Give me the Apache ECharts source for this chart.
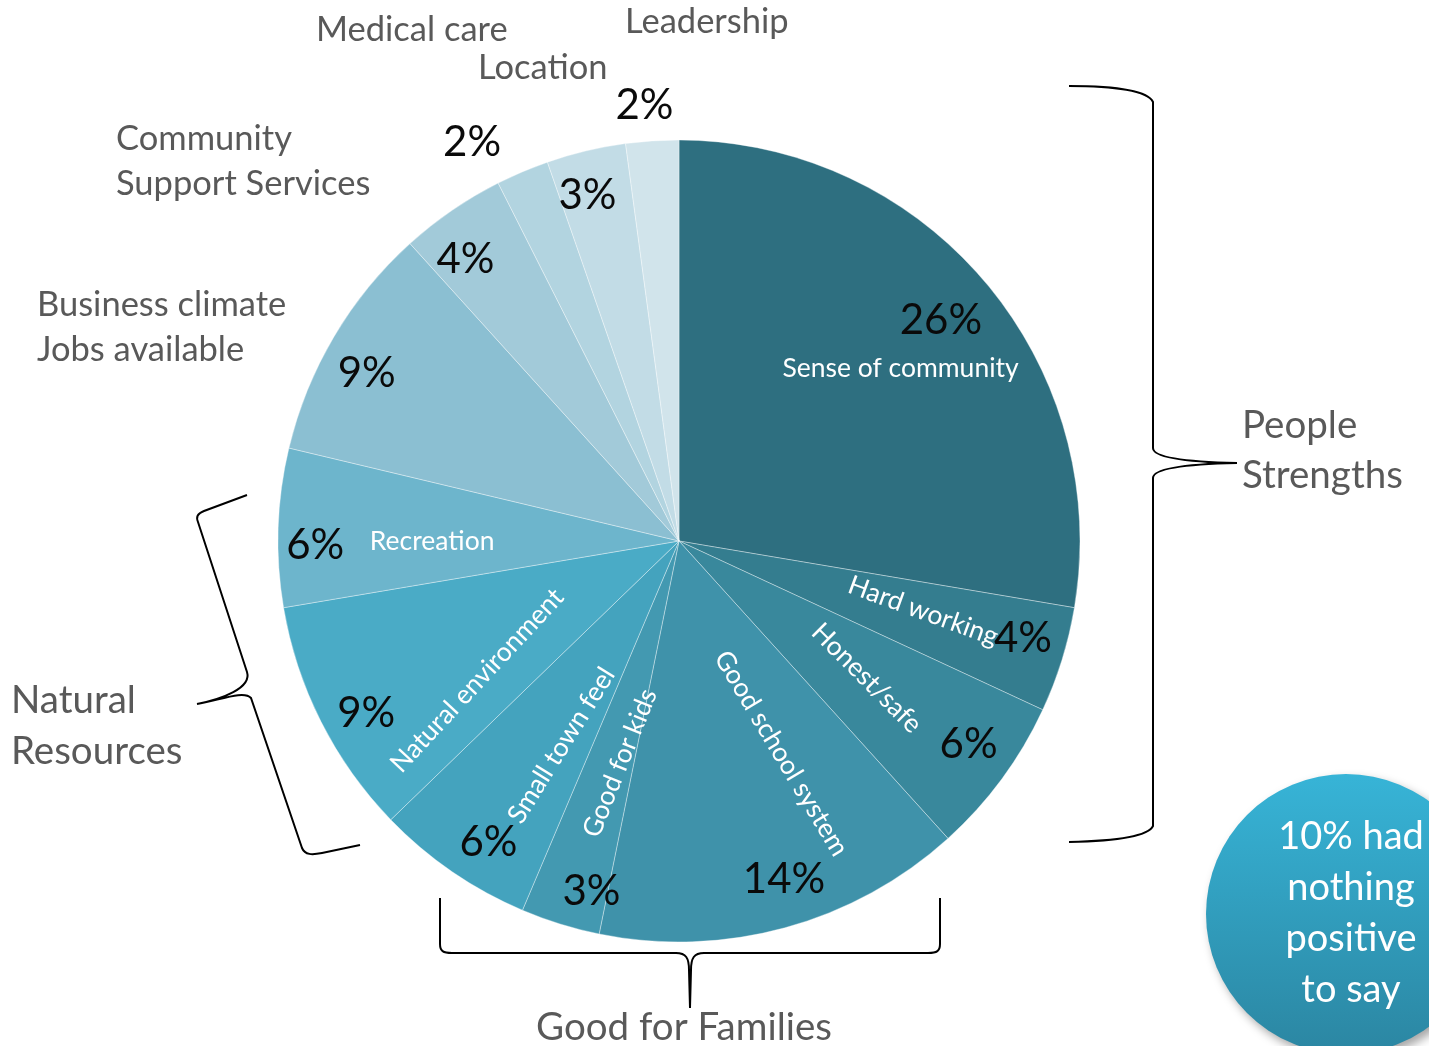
<!DOCTYPE html>
<html>
<head>
    <meta charset="utf-8">
    <script src="https://cdn.jsdelivr.net/npm/echarts@6/dist/echarts.min.js"></script>
    <style>
        html, body { margin: 0; padding: 0; background: #fff; }
    </style>
</head>
<body>
    <div id="main" style="width: 1429px;height:1046px;"></div>
    <script type="text/javascript">
        // data
        var categories = ['Sense of community', 'Hard working', 'Honest/safe', 'Good school system',
            'Good for kids', 'Small town feel', 'Natural environment', 'Recreation',
            'Business climate\nJobs available', 'Community\nSupport Services', 'Medical care',
            'Location', 'Leadership'];
        var shares = [26, 4, 6, 14, 3, 6, 9, 6, 9, 4, 2, 3, 2];
        var groupLabels = ['People\nStrengths', 'Natural\nResources', 'Good for Families'];
        var nothingShare = 10;

        // styles / layout
        var colors = ['#2e6f80', '#347d8f', '#39889c', '#3f92aa', '#4399b1', '#44a3be', '#4aabc6',
            '#6db5cc', '#8bbfd2', '#a2cad9', '#b2d4e0', '#c2dce6', '#d1e4eb'];
        var CX = 679, CY = 541, R = 401;
        var FONT = 'Lato, "Open Sans", sans-serif';
        var GRAY = '#595959';

        var nameInside = [true, true, true, true, true, true, true, true, false, false, false, false, false];
        var nameRotate = [0, -20, -45, -59, 68, 58, 47, 0];
        // screen-space offsets from the ring position
        var nameNudge = [[36, -16], [12, -2], [-8, -7], [38, -22], [13, -10], [20, 4], [15, 30], [-4, 9]];
        // outside names: [left x, middle y]
        var nameOutPos = { 8: [37, 327], 9: [116, 161], 10: [316, 30], 11: [478, 68], 12: [625, 22] };
        var pctOutside = [false, false, false, false, false, false, false, false, false, false, true, false, true];
        var pctNudge = [[-10, 9], [4, -8], [3, -8], [11, -5], [18, 10], [11, 8], [5, 12], [-8, 16],
            [-6, 14], [-12, 12], [-34, 9], [-9, 1], [-5, 6]];

        // curly braces around the groups
        var bracePaths = [
            'M1069 86 C1115 86 1148 91 1153 102 L1153 448 C1153 458 1190 462 1237 463 C1190 464 1153 468 1153 478 L1153 826 C1148 837 1115 841 1069 842',
            'M247 495 L204 511 C197 514 196 517 198 522 L247 672 C252 688 222 699 197 704 C220 700 244 690 251 698 L302 848 C305 855 312 855 322 853 L360 845',
            'M440 898 L440 944 C440 951 443 953 452 953 L676 953 C686 953 689 958 689 970 L690 1008 L691 970 C691 958 694 953 704 953 L928 953 C937 953 940 951 940 944 L940 898'
        ];

        var myChart = echarts.init(document.getElementById('main'));

        var base = {
            type: 'pie',
            center: [CX, CY],
            startAngle: 90,
            clockwise: true,
            silent: true,
            animation: false,
            avoidLabelOverlap: false,
            labelLine: { show: false },
            emphasis: { disabled: true }
        };
        function build(extra) {
            var o = {};
            for (var k in base) o[k] = base[k];
            for (var k2 in extra) o[k2] = extra[k2];
            return o;
        }
        var clear = { color: 'rgba(0,0,0,0)', borderWidth: 0 };

        var sliceData = [], pctInData = [], pctOutData = [], nameInData = [], nameOutData = [];
        for (var i = 0; i < shares.length; i++) {
            sliceData.push({ name: categories[i], value: shares[i], itemStyle: { color: colors[i] } });
            pctInData.push({ name: categories[i], value: shares[i], label: { show: !pctOutside[i] } });
            pctOutData.push({ name: categories[i], value: shares[i], label: { show: pctOutside[i] } });
            nameInData.push({
                name: categories[i], value: shares[i],
                label: { show: nameInside[i], rotate: nameInside[i] ? nameRotate[i] : 0 }
            });
            nameOutData.push({ name: categories[i], value: shares[i], label: { show: !nameInside[i] } });
        }

        var pctLabel = {
            position: 'inside',
            formatter: '{c}%',
            color: '#0a0a0a',
            fontFamily: FONT,
            fontSize: 42
        };
        // dx/dy are applied in the label's rotated frame, so turn screen offsets into it
        function nudge(table, rot) {
            return function (p) {
                var d = table[p.dataIndex];
                if (!d) return {};
                var a = ((rot && rot[p.dataIndex]) || 0) * Math.PI / 180;
                var c = Math.cos(a), s = Math.sin(a);
                return { dx: d[0] * c - d[1] * s, dy: d[0] * s + d[1] * c };
            };
        }

        option = {
            backgroundColor: '#fff',
            series: [
                build({
                    name: 'slices',
                    radius: [0, R],
                    itemStyle: { borderColor: 'rgba(255,255,255,0.45)', borderWidth: 0.8 },
                    label: { show: false },
                    data: sliceData
                }),
                build({
                    name: 'pctIn',
                    radius: [310, 396],
                    itemStyle: clear,
                    label: pctLabel,
                    labelLayout: nudge(pctNudge),
                    data: pctInData
                }),
                build({
                    name: 'pctOut',
                    radius: [415, 465],
                    itemStyle: clear,
                    label: pctLabel,
                    labelLayout: nudge(pctNudge),
                    data: pctOutData
                }),
                build({
                    name: 'namesIn',
                    radius: [140, 340],
                    itemStyle: clear,
                    label: {
                        position: 'inside',
                        formatter: '{b}',
                        color: '#fff',
                        fontFamily: FONT,
                        fontSize: 26.5
                    },
                    labelLayout: nudge(nameNudge, nameRotate),
                    data: nameInData
                }),
                build({
                    name: 'namesOut',
                    radius: [0, R],
                    itemStyle: clear,
                    label: {
                        position: 'outside',
                        formatter: '{b}',
                        color: GRAY,
                        fontFamily: FONT,
                        fontSize: 34.5,
                        lineHeight: 45
                    },
                    labelLayout: function (p) {
                        var q = nameOutPos[p.dataIndex];
                        if (!q) return {};
                        return { x: q[0], y: q[1], align: 'left', verticalAlign: 'middle' };
                    },
                    data: nameOutData
                }),
                {
                    type: 'custom',
                    coordinateSystem: 'none',
                    silent: true,
                    animation: false,
                    data: [0],
                    renderItem: function () {
                        return {
                            type: 'group',
                            children: bracePaths.map(function (d) {
                                return {
                                    type: 'path',
                                    shape: { pathData: d },
                                    style: { fill: 'none', stroke: '#000', lineWidth: 2 }
                                };
                            })
                        };
                    }
                }
            ],
            graphic: [
                {
                    type: 'text', left: 1242, top: 401, silent: true,
                    style: { text: groupLabels[0], fill: GRAY, font: '38.5px ' + FONT, lineHeight: 50 }
                },
                {
                    type: 'text', left: 11, top: 675, silent: true,
                    style: { text: groupLabels[1], fill: GRAY, font: '38.5px ' + FONT, lineHeight: 51 }
                },
                {
                    type: 'text', x: 684, y: 1028, silent: true,
                    style: { text: groupLabels[2], fill: GRAY, font: '38.5px ' + FONT, align: 'center', verticalAlign: 'middle' }
                },
                // "nothing positive" bubble
                {
                    type: 'circle', silent: true,
                    shape: { cx: 1346, cy: 914, r: 140 },
                    style: {
                        fill: {
                            type: 'linear', x: 0, y: 0, x2: 0, y2: 1,
                            colorStops: [
                                { offset: 0, color: '#37b4d7' },
                                { offset: 1, color: '#2b86a2' }
                            ]
                        },
                        shadowBlur: 10,
                        shadowOffsetX: 4,
                        shadowOffsetY: 5,
                        shadowColor: 'rgba(0,0,0,0.35)'
                    }
                },
                {
                    type: 'text', x: 1351, y: 913, silent: true,
                    style: {
                        text: nothingShare + '% had\nnothing\npositive\nto say',
                        fill: '#fff', font: '38px ' + FONT, lineHeight: 51,
                        align: 'center', verticalAlign: 'middle'
                    }
                }
            ]
        };
        myChart.setOption(option);
    </script>
</body>
</html>
